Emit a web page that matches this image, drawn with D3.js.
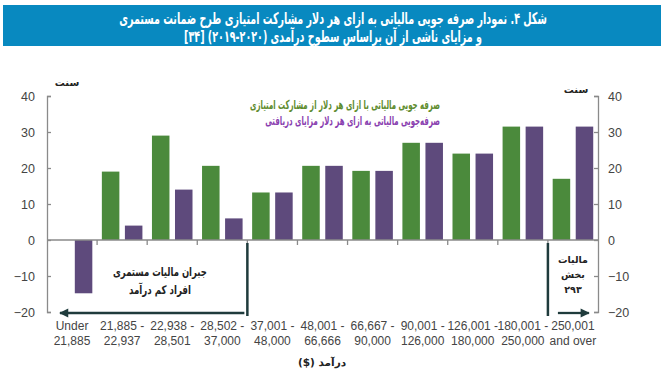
<!DOCTYPE html>
<html><head><meta charset="utf-8">
<script src="https://cdn.jsdelivr.net/npm/d3@7"></script>
<style>
body{margin:0;background:#fff;}
svg{display:block;}
.ar{font-family:"DejaVu Sans",sans-serif;direction:rtl;unicode-bidi:embed;}
</style></head>
<body>
<svg id="chart" width="664" height="381"></svg>
<script>
// ---- data ----
const labelsLine1 = ["Under","21,885 -","22,938 -","28,502 -","37,001 -","48,001 -","66,667 -","90,001 -","126,001 -","180,001 -","250,001"];
const labelsLine2 = ["21,885","22,937","28,501","37,000","48,000","66,666","90,000","126,000","180,000","250,000","and over"];
const contributionSavings = [null,19,29,20.6,13.2,20.6,19.2,27,24,31.5,17];
const benefitSavings      = [-14.8,4,14,6,13.2,20.6,19.2,27,24,31.5,31.5];
const yTicks = [-20,-10,0,10,20,30,40];
const seriesNames = ["صرفه جویی مالیاتی با ازای هر دلار از مشارکت امتیازی","صرفه‌جویی مالیاتی به ازای هر دلار مزایای دریافتی"];
const titleLines = ["شکل ۴. نمودار صرفه جویی مالیاتی به ازای هر دلار مشارکت امتیازی طرح ضمانت مستمری","و مزایای ناشی از آن براساس سطوح درآمدی (۲۰۲۰-۲۰۱۹) [۳۴]"];

const svg = d3.select("#chart");
const green = "#4b8a3c", purple = "#5e4a7c", dark = "#1f3b3c", axisCol = "#8a8a8a";

// squeeze text horizontally around its anchor x to a target width
function fit(sel, widths){
  sel.each(function(d,i){
    const t = d3.select(this), w = widths[i];
    const len = this.getComputedTextLength();
    if(!len || !w) return;
    const k = w/len, x0 = +t.attr("x");
    t.attr("transform",`translate(${x0},0) scale(${k},1) translate(${-x0},0)`);
  });
}

// title band
svg.append("rect").attr("x",3).attr("y",5).attr("width",658).attr("height",41).attr("fill","#0889c0");
svg.selectAll(".title").data(titleLines).join("text")
  .attr("class","ar").attr("x",333).attr("y",(d,i)=>24+i*18)
  .attr("text-anchor","middle").attr("fill","#fff").attr("font-weight","bold").attr("font-size",16)
  .text(d=>d).call(fit,[428,298]);

const left = 47, right = 598;
const x = d3.scaleBand().domain(d3.range(labelsLine1.length)).range([left,right]).padding(0);
const sub = d3.scaleBand().domain([0,1]).range([0,x.bandwidth()]).paddingInner(0.24).paddingOuter(0.207);
const y = d3.scaleLinear().domain([-20,40]).range([312,96]);

// bars
const series = [contributionSavings, benefitSavings];
const colors = [green, purple];
series.forEach((vals,s)=>{
  svg.append("g").selectAll("rect").data(vals.map((v,i)=>({v,i})).filter(d=>d.v!==null)).join("rect")
    .attr("x",d=>x(d.i)+sub(s)).attr("width",sub.bandwidth())
    .attr("y",d=>y(Math.max(0,d.v))).attr("height",d=>Math.abs(y(d.v)-y(0)))
    .attr("fill",colors[s]);
});

// axes
const la = svg.append("g").attr("transform",`translate(${left},0)`)
  .call(d3.axisLeft(y).tickValues(yTicks).tickSizeInner(-4).tickSizeOuter(-4).tickPadding(12));
const ra = svg.append("g").attr("transform",`translate(${right},0)`)
  .call(d3.axisRight(y).tickValues(yTicks).tickSizeInner(-4).tickSizeOuter(-4).tickPadding(10));
[la,ra].forEach(a=>{
  a.selectAll("path,line").attr("stroke",axisCol).attr("stroke-width",1.3);
  a.selectAll("text").attr("fill","#444").attr("font-family","Liberation Sans, Arial, sans-serif").attr("font-size",12.5);
});

// zero line
const y0 = y(0);
svg.append("line").attr("x1",left).attr("x2",right).attr("y1",y0).attr("y2",y0).attr("stroke",axisCol).attr("stroke-width",1.5);
svg.append("g").selectAll("line").data(d3.range(1,labelsLine1.length)).join("line")
  .attr("x1",i=>x(i)).attr("x2",i=>x(i)).attr("y1",y0).attr("y2",y0+5)
  .attr("stroke",axisCol).attr("stroke-width",1.3);

// dividers
[4,10].forEach(i=>{
  svg.append("line").attr("x1",x(i)).attr("x2",x(i)).attr("y1",y0+3).attr("y2",316)
    .attr("stroke",dark).attr("stroke-width",2.5);
});

// arrows
const defs = svg.append("defs");
defs.append("marker").attr("id","ah").attr("viewBox","0 0 10 10").attr("refX",9).attr("refY",5)
  .attr("markerWidth",4.5).attr("markerHeight",4).attr("markerUnits","strokeWidth").attr("orient","auto")
  .append("path").attr("d","M0,0L10,5L0,10z").attr("fill",dark);
const ay = y(-20)+1;
svg.append("line").attr("x1",x(4)-3).attr("x2",x(0)+13).attr("y1",ay).attr("y2",ay)
  .attr("stroke",dark).attr("stroke-width",2.3).attr("marker-end","url(#ah)");
svg.append("line").attr("x1",x(10)+10).attr("x2",x(10)+41).attr("y1",ay).attr("y2",ay)
  .attr("stroke",dark).attr("stroke-width",2.3).attr("marker-end","url(#ah)");

// x labels
const xl = svg.append("g").attr("font-family","Liberation Sans, Arial, sans-serif").attr("font-size",12).attr("fill","#444").attr("text-anchor","middle");
xl.selectAll(".l1").data(labelsLine1).join("text").attr("x",(d,i)=>x(i)+x.bandwidth()/2).attr("y",330).text(d=>d);
xl.selectAll(".l2").data(labelsLine2).join("text").attr("x",(d,i)=>x(i)+x.bandwidth()/2).attr("y",345).text(d=>d);

// axis titles
svg.append("text").attr("class","ar").attr("x",67).attr("y",86).attr("text-anchor","middle").attr("font-size",10).attr("font-weight","bold").attr("fill","#222").text("سنت");
svg.append("text").attr("class","ar").attr("x",576).attr("y",93).attr("text-anchor","middle").attr("font-size",10).attr("font-weight","bold").attr("fill","#222").text("سنت");
svg.append("text").attr("class","ar").attr("x",322).attr("y",366).attr("text-anchor","middle").attr("font-size",10.5).attr("font-weight","bold").attr("fill","#222").text("درآمد ($)");

// legend
const legCols = ["#5e8c2e","#8a3fb0"];
svg.selectAll(".leg").data(seriesNames).join("text").attr("class","ar")
  .attr("x",440).attr("y",(d,i)=>109+i*16.5).attr("text-anchor","start")
  .attr("font-size",12.5).attr("font-weight","bold").attr("fill",(d,i)=>legCols[i]).text(d=>d)
  .call(fit,[190,175]);

// annotations
const annL = ["جبران مالیات مستمری","افراد کم درآمد"];
svg.selectAll(".annL").data(annL).join("text").attr("class","ar")
  .attr("x",160).attr("y",(d,i)=>276+i*18).attr("text-anchor","middle")
  .attr("font-size",12).attr("font-weight","bold").attr("fill","#222").text(d=>d)
  .call(fit,[94,62]);
const annR = ["مالیات","بخش","۲۹۳"];
svg.selectAll(".annR").data(annR).join("text").attr("class","ar")
  .attr("x",573).attr("y",(d,i)=>263+i*15).attr("text-anchor","middle")
  .attr("font-size",9.5).attr("font-weight","bold").attr("fill","#222").text(d=>d);
</script>
</body></html>
